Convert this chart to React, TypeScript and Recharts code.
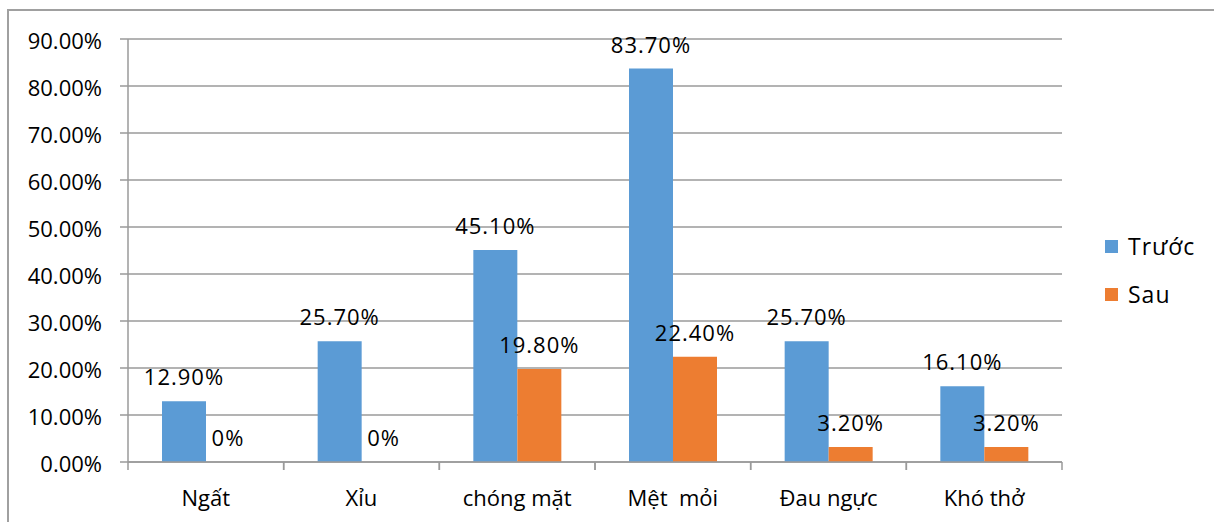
import { BarChart, Bar, XAxis, YAxis, CartesianGrid, Legend, LabelList } from "recharts";

// Nhóm triệu chứng
const categories = ["Ngất", "Xỉu", "chóng mặt", "Mệt  mỏi", "Đau ngực", "Khó thở"];
const truoc = [12.9, 25.7, 45.1, 83.7, 25.7, 16.1];
const sau = [0, 0, 19.8, 22.4, 3.2, 3.2];
const yTicks = [0, 10, 20, 30, 40, 50, 60, 70, 80, 90];
const seriesNames = { truoc: "Trước", sau: "Sau" };

const data = categories.map((name, i) => ({ name, truoc: truoc[i], sau: sau[i] }));

const FONT = "'Open Sans', 'Noto Sans', sans-serif";
const GRID = "#9a9a9a";
const BLUE = "#5B9BD5";
const ORANGE = "#ED7D31";

const fmtPct = (v: number) => (v === 0 ? "0%" : v.toFixed(2) + "%");

const labelStyle = { fill: "#000", fontSize: 22, fontFamily: FONT, letterSpacing: 1 };

function CategoryTick(props: any) {
  const { x, y, payload } = props;
  const half = typeof payload?.offset === "number" && payload.offset > 0 ? payload.offset : 77.8;
  return (
    <g>
      <line x1={x - half} x2={x - half} y1={y} y2={y + 8} stroke={GRID} strokeWidth={1.5} />
      <line x1={x + half} x2={x + half} y1={y} y2={y + 8} stroke={GRID} strokeWidth={1.5} />
      <text x={x} y={y + 44} textAnchor="middle" fill="#000" fontSize={22} fontFamily={FONT} style={{ whiteSpace: "pre" }}>
        {payload.value}
      </text>
    </g>
  );
}

function LegendBox() {
  const items = [
    { label: seriesNames.truoc, color: BLUE },
    { label: seriesNames.sau, color: ORANGE },
  ];
  return (
    <div style={{ fontFamily: FONT, fontSize: 23, color: "#000", letterSpacing: 1 }}>
      {items.map(it => (
        <div key={it.label} style={{ display: "flex", alignItems: "center", height: 48 }}>
          <span style={{ width: 13, height: 13, background: it.color, display: "inline-block", marginRight: 10 }} />
          <span>{it.label}</span>
        </div>
      ))}
    </div>
  );
}

export default function App() {
  return (
    <div style={{ position: "absolute", left: 0, top: 0, width: 1214, height: 522, background: "#fff", overflow: "hidden" }}>
      <div
        style={{
          position: "absolute",
          left: 7,
          top: 9,
          width: 1220,
          height: 530,
          borderTop: "2px solid #a0a0a0",
          borderLeft: "2px solid #a0a0a0",
        }}
      />
      <div style={{ position: "absolute", left: 0, top: 0 }}>
        <BarChart
          width={1214}
          height={522}
          data={data}
          margin={{ top: 39, right: 152, bottom: 10, left: 20 }}
          barCategoryGap={34}
          barGap={0}
        >
          <CartesianGrid vertical={false} stroke={GRID} strokeWidth={1.5} />
          <XAxis
            dataKey="name"
            height={50}
            axisLine={{ stroke: GRID, strokeWidth: 1.5 }}
            tickLine={false}
            tickSize={0}
            tickMargin={0}
            interval={0}
            tick={<CategoryTick />}
          />
          <YAxis
            width={108}
            domain={[0, 90]}
            ticks={yTicks}
            interval={0}
            tickFormatter={(v: number) => v.toFixed(2) + "%"}
            axisLine={{ stroke: GRID, strokeWidth: 1.5 }}
            tickLine={{ stroke: GRID, strokeWidth: 1.5 }}
            tickSize={8}
            tickMargin={18}
            tick={{ fill: "#000", fontSize: 22, fontFamily: FONT, dy: 2 }}
          />
          <Legend
            layout="vertical"
            align="center"
            verticalAlign="middle"
            content={() => <LegendBox />}
            wrapperStyle={{ left: 1105, top: 222, width: 110 }}
          />
          <Bar dataKey="truoc" name={seriesNames.truoc} fill={BLUE} isAnimationActive={false}>
            <LabelList dataKey="truoc" position="top" offset={16} formatter={(v: any) => fmtPct(Number(v))} style={labelStyle} />
          </Bar>
          <Bar dataKey="sau" name={seriesNames.sau} fill={ORANGE} minPointSize={0.01} isAnimationActive={false}>
            <LabelList dataKey="sau" position="top" offset={16} formatter={(v: any) => fmtPct(Number(v))} style={labelStyle} />
          </Bar>
        </BarChart>
      </div>
    </div>
  );
}
